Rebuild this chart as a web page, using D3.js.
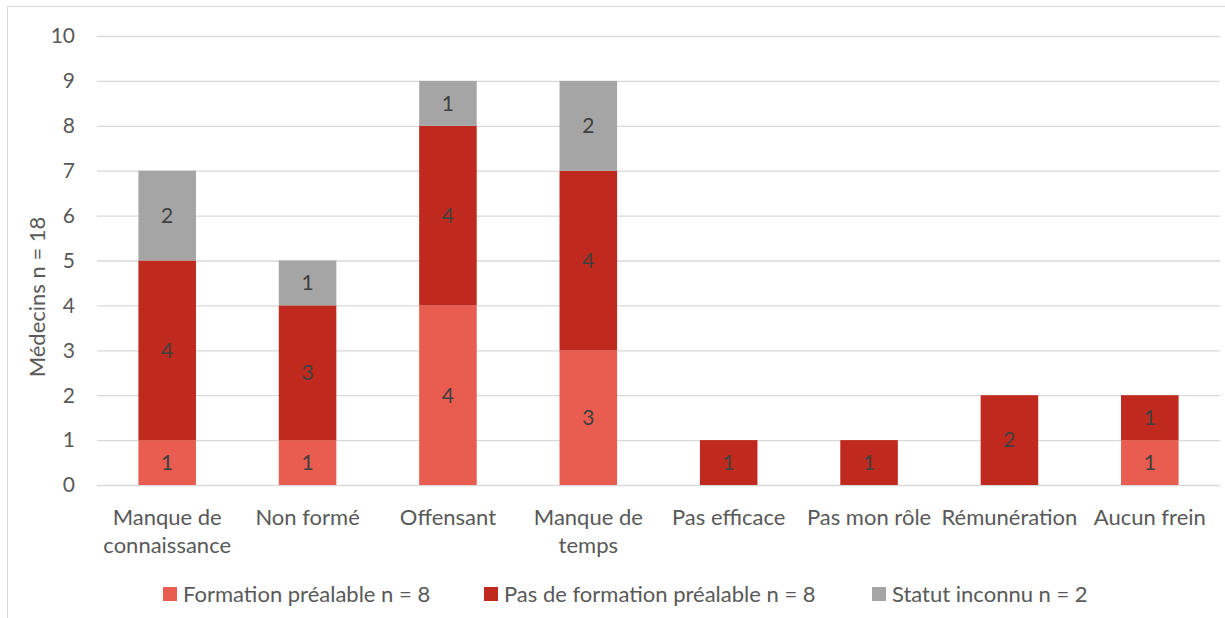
<!DOCTYPE html>
<html>
<head>
<meta charset="utf-8">
<script src="https://cdn.jsdelivr.net/npm/d3@7"></script>
<style>
  body { margin: 0; background: #fff; }
  svg text { font-family: Lato, "Open Sans", sans-serif; fill: #595959; }
</style>
</head>
<body>
<svg id="chart" width="1225" height="618"></svg>
<script>
"use strict";

const categories = ["Manque de\nconnaissance", "Non formé", "Offensant", "Manque de\ntemps",
                    "Pas efficace", "Pas mon rôle", "Rémunération", "Aucun frein"];
const formation = [1, 1, 4, 3, 0, 0, 0, 1];
const sansFormation = [4, 3, 4, 4, 1, 1, 2, 1];
const inconnu = [2, 1, 1, 2, 0, 0, 0, 0];
const seriesNames = ["Formation préalable n = 8", "Pas de formation préalable n = 8", "Statut inconnu n = 2"];
const yTicks = [0, 1, 2, 3, 4, 5, 6, 7, 8, 9, 10];
const yTitle = "Médecins n = 18";

const colors = ["#E85D50", "#C0291D", "#A5A5A5"];
const fs = 22;

let svg = d3.select("#chart");

// frame
svg.append("rect")
   .attr("x", 7.5).attr("y", 6.5)
   .attr("width", 1300).attr("height", 700)
   .attr("fill", "none")
   .attr("stroke", "#D9D9D9");

let plotL = 97, plotR = 1220, plotT = 36, plotB = 485;

let x = d3.scaleBand()
          .domain(d3.range(categories.length))
          .range([plotL, plotR])
          .paddingInner(0.59)
          .paddingOuter(0.295);

let y = d3.scaleLinear()
          .domain([0, 10])
          .range([plotB, plotT]);

// gridlines
svg.append("g")
   .selectAll("line")
   .data(yTicks)
   .join("line")
   .attr("x1", plotL).attr("x2", plotR)
   .attr("y1", d => y(d) + 0.5).attr("y2", d => y(d) + 0.5)
   .attr("stroke", "#D9D9D9")
   .attr("stroke-width", 1.3);

// y tick labels
svg.append("g")
   .selectAll("text")
   .data(yTicks)
   .join("text")
   .attr("x", 75)
   .attr("y", d => y(d))
   .attr("dy", "0.35em")
   .attr("text-anchor", "end")
   .attr("font-size", 21)
   .text(d => d);

// y title
svg.append("text")
   .attr("transform", "translate(45," + 297 + ") rotate(-90)")
   .attr("text-anchor", "middle")
   .attr("font-size", fs)
   .text(yTitle);

// stack
let rows = categories.map((c, i) => ({i: i, f: formation[i], s: sansFormation[i], u: inconnu[i]}));
let stack = d3.stack().keys(["f", "s", "u"])(rows);

let layers = svg.append("g")
   .selectAll("g")
   .data(stack)
   .join("g")
   .attr("fill", (d, k) => colors[k]);

layers.selectAll("rect")
   .data(d => d.filter(p => p[1] - p[0] > 0))
   .join("rect")
   .attr("x", p => x(p.data.i))
   .attr("width", x.bandwidth())
   .attr("y", p => y(p[1]))
   .attr("height", p => y(p[0]) - y(p[1]));

layers.selectAll("text")
   .data(d => d.filter(p => p[1] - p[0] > 0))
   .join("text")
   .attr("x", p => x(p.data.i) + x.bandwidth() / 2)
   .attr("y", p => y((p[0] + p[1]) / 2))
   .attr("dy", "0.35em")
   .attr("text-anchor", "middle")
   .attr("font-size", 21)
   .style("fill", "#404040")
   .text(p => p[1] - p[0]);

// x labels
let xl = svg.append("g")
   .selectAll("text")
   .data(categories)
   .join("text")
   .attr("text-anchor", "middle")
   .attr("font-size", fs)
   .attr("transform", (d, i) => "translate(" + (x(i) + x.bandwidth() / 2) + ",525)");

xl.selectAll("tspan")
  .data(d => d.split("\n"))
  .join("tspan")
  .attr("x", 0)
  .attr("y", (d, j) => j * 28)
  .text(d => d);

// legend
let legendX = [163, 484, 872];
let lg = svg.append("g")
   .selectAll("g")
   .data(seriesNames)
   .join("g")
   .attr("transform", (d, k) => "translate(" + legendX[k] + ",594)");

lg.append("rect")
  .attr("x", 0).attr("y", -7)
  .attr("width", 14).attr("height", 14)
  .attr("fill", (d, k) => colors[k]);

lg.append("text")
  .attr("x", 20)
  .attr("dy", "0.35em")
  .attr("font-size", fs)
  .text(d => d);
</script>
</body>
</html>
